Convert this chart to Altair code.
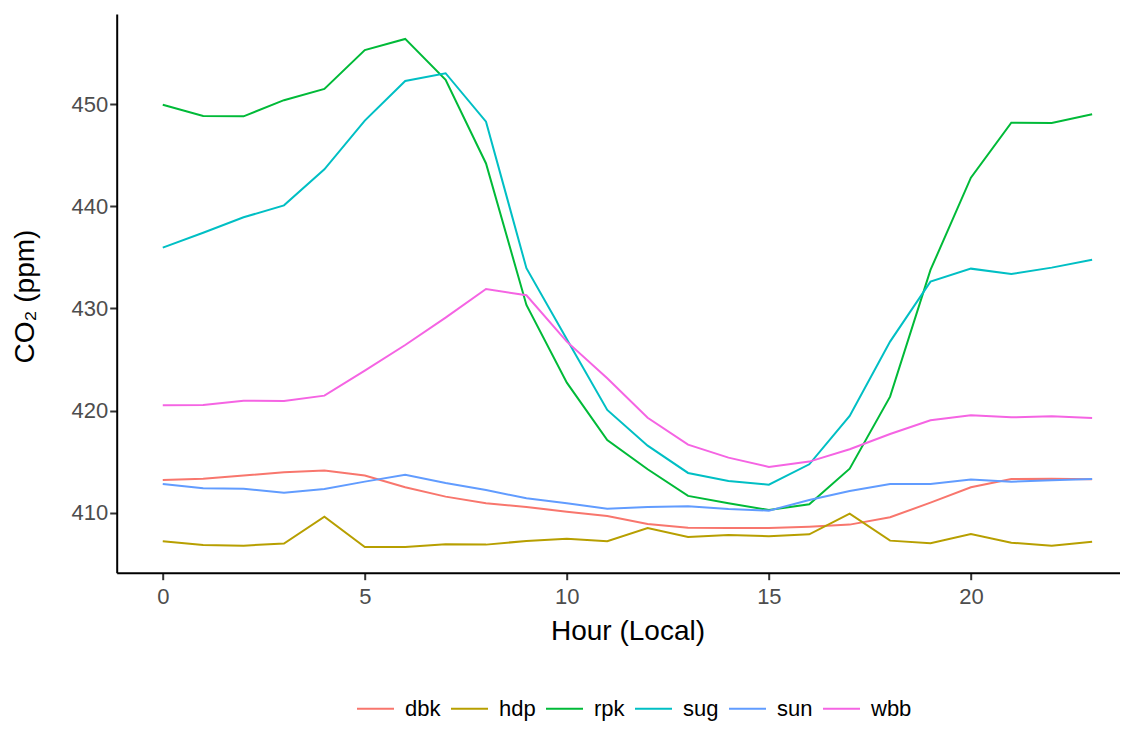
import altair as alt
import pandas as pd

hours = list(range(24))
sites = ["dbk", "hdp", "rpk", "sug", "sun", "wbb"]
colors = ["#F8766D", "#B79F00", "#00BA38", "#00BFC4", "#619CFF", "#F564E3"]

dbk = [413.2, 413.33, 413.63, 413.96, 414.12, 413.63, 412.49, 411.57, 410.92, 410.55,
       410.1, 409.68, 408.89, 408.53, 408.5, 408.5, 408.63, 408.83, 409.55, 410.98,
       412.49, 413.3, 413.33, 413.27]
hdp = [407.2, 406.84, 406.77, 406.97, 409.61, 406.64, 406.64, 406.9, 406.87, 407.23,
       407.45, 407.2, 408.5, 407.62, 407.82, 407.69, 407.88, 409.9, 407.26, 407.0,
       407.91, 407.06, 406.77, 407.16]
rpk = [449.96, 448.85, 448.82, 450.4, 451.5, 455.3, 456.4, 452.4, 444.2, 430.34,
       422.73, 417.12, 414.25, 411.64, 410.92, 410.26, 410.82, 414.31, 421.36, 433.77,
       442.81, 448.2, 448.17, 449.02]
sug = [435.96, 437.42, 438.93, 440.1, 443.63, 448.4, 452.28, 453.04, 448.3, 433.94,
       426.98, 420.06, 416.56, 413.89, 413.1, 412.74, 414.74, 419.47, 426.75, 432.63,
       433.9, 433.38, 434.0, 434.78]
sun = [412.81, 412.39, 412.35, 411.96, 412.32, 413.04, 413.72, 412.91, 412.22, 411.41,
       410.92, 410.39, 410.56, 410.63, 410.36, 410.2, 411.24, 412.12, 412.81, 412.81,
       413.24, 413.04, 413.17, 413.3]
wbb = [420.52, 420.55, 420.97, 420.94, 421.46, 423.91, 426.42, 429.1, 431.91, 431.29,
       426.75, 423.16, 419.3, 416.66, 415.39, 414.48, 415.0, 416.21, 417.71, 419.05,
       419.54, 419.34, 419.44, 419.28]

x_ticks = [0, 5, 10, 15, 20]
y_ticks = [410, 420, 430, 440, 450]

series = {"dbk": dbk, "hdp": hdp, "rpk": rpk, "sug": sug, "sun": sun, "wbb": wbb}
rows = []
for s in sites:
    for h, v in zip(hours, series[s]):
        rows.append({"hour": h, "co2": v, "site": s})
df = pd.DataFrame(rows)

chart = alt.Chart(df).mark_line(strokeWidth=2).encode(
    x=alt.X("hour:Q",
            scale=alt.Scale(domain=[-1.14, 23.69], nice=False, zero=False),
            axis=alt.Axis(values=x_ticks, title="Hour (Local)", labelPadding=6.5,
                          titleX=510.8, titleY=66.3, titleAlign="center",
                          titleBaseline="alphabetic")),
    y=alt.Y("co2:Q",
            scale=alt.Scale(domain=[404.12, 458.84], nice=False, zero=False),
            axis=alt.Axis(values=y_ticks, title="CO₂ (ppm)", labelPadding=2,
                          titleX=-83.2, titleY=282, titleAlign="center",
                          titleBaseline="alphabetic")),
    color=alt.Color("site:N",
                    scale=alt.Scale(domain=sites, range=colors),
                    legend=alt.Legend(title=None, orient="none", direction="horizontal",
                                      legendX=239.3, legendY=675,
                                      symbolType="stroke", symbolSize=1369,
                                      symbolStrokeWidth=2, labelFontSize=22,
                                      labelColor="black", labelOffset=10,
                                      columnPadding=6)),
    detail="site:N",
).properties(
    width=1003.3,
    height=558.7,
    autosize=alt.AutoSizeParams(type="none"),
    padding={"left": 108.7, "top": 6, "right": 0, "bottom": 148.3},
).configure(
    font="Liberation Sans",
).configure_view(
    stroke=None,
).configure_axis(
    grid=False,
    domainColor="black",
    domainWidth=2,
    tickColor="#333333",
    tickWidth=2,
    tickSize=7,
    labelColor="#4D4D4D",
    labelFontSize=22,
    labelFont="Liberation Sans",
    titleFont="Liberation Sans",
    titleFontSize=28,
    titleFontWeight="normal",
    titleColor="black",
).configure_legend(
    labelFont="Liberation Sans",
)

chart.save("out.html", embed_options={"renderer": "svg", "actions": False})
